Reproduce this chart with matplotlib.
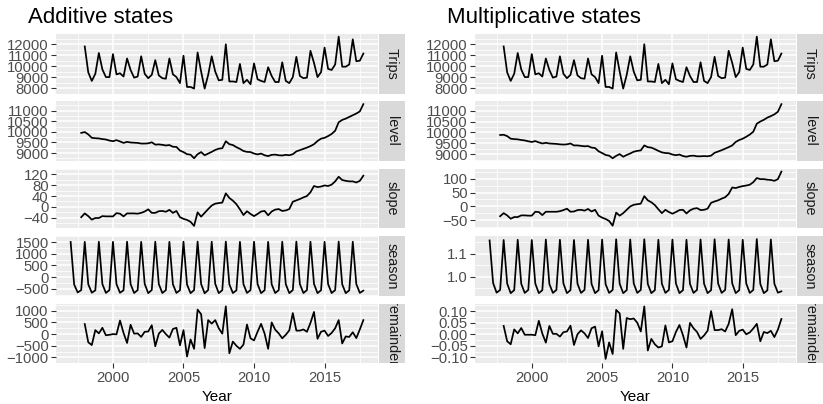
"""ETS state components of Australian holiday trips: additive vs multiplicative."""

import matplotlib
matplotlib.use("Agg")
import matplotlib.pyplot as plt
import numpy as np

plt.rcParams["font.family"] = ["Liberation Sans", "DejaVu Sans"]

# Quarterly time axis, 1997 Q1 .. 2017 Q4 (seasonal states start 4 quarters early,
# level/slope one quarter early, observations at 1998 Q1).
FIRST_YEAR = 1997
N_QUARTERS = 84

TRIPS = [
    11800, 9430, 8650, 9300,
    11200, 9700, 9000, 9000,
    11100, 9250, 9350, 9050,
    10700, 9650, 8950, 9050,
    10900, 9300, 8900, 9200,
    10550, 9150, 8900, 8850,
    10700, 9250, 9000, 8450,
    10950, 8100, 8100, 7950,
    11250, 9500, 7950, 9200,
    10900, 9500, 8700, 8750,
    12000, 8600, 8600, 8550,
    10200, 8450, 8750, 8350,
    10250, 8800, 8650, 8550,
    9900, 9100, 8550, 8550,
    10350, 8650, 8450, 9000,
    10850, 9100, 8900, 8950,
    11400, 10300, 9000, 9450,
    11700, 9750, 9650, 10150,
    12700, 9950, 9950, 10150,
    12450, 10450, 10500, 11150,
]

LEVEL_ADD = [
    9950,
    9990, 9880, 9720, 9700,
    9690, 9660, 9640, 9590,
    9560, 9610, 9550, 9480,
    9530, 9500, 9490, 9480,
    9450, 9450, 9460, 9510,
    9400, 9410, 9390, 9360,
    9380, 9300, 9290, 9120,
    9050, 8950, 8930, 8760,
    8950, 9050, 8900, 8980,
    9060, 9150, 9210, 9230,
    9560, 9420, 9380, 9280,
    9200, 9100, 9060, 9050,
    8980, 8940, 8980, 8900,
    8860, 8920, 8930, 8900,
    8890, 8920, 8900, 8950,
    9080, 9140, 9200, 9260,
    9330, 9420, 9570, 9680,
    9720, 9800, 9900, 10050,
    10450, 10560, 10620, 10700,
    10780, 10860, 10960, 11300,
]

SLOPE_ADD = [
    -38,
    -24, -34, -47, -41,
    -41, -34, -35, -35,
    -35, -23, -25, -35,
    -24, -24, -24, -25,
    -22, -17, -9, -22,
    -22, -16, -15, -18,
    -11, -22, -15, -38,
    -44, -48, -55, -70,
    -20, -36, -22, -8,
    5, 12, 14, 16,
    50, 33, 23, 10,
    -9, -30, -16, -26,
    -34, -26, -17, -15,
    -31, -17, -10, -8,
    -15, -13, -8, 19,
    24, 29, 35, 40,
    54, 77, 73, 75,
    79, 77, 82, 94,
    111, 99, 96, 94,
    94, 90, 96, 115,
]

SEASON_ADD = [
    1510, -320, -660, -560,
    1515, -310, -670, -570,
    1520, -300, -680, -560,
    1515, -305, -675, -565,
    1520, -300, -685, -560,
    1515, -295, -690, -555,
    1520, -300, -685, -560,
    1515, -310, -680, -565,
    1520, -320, -690, -560,
    1525, -300, -695, -555,
    1520, -290, -690, -560,
    1525, -310, -685, -570,
    1515, -305, -680, -560,
    1520, -300, -690, -565,
    1515, -310, -685, -560,
    1520, -305, -690, -555,
    1525, -300, -685, -560,
    1520, -290, -690, -565,
    1515, -300, -685, -560,
    1525, -310, -690, -570,
    1520, -300, -680, -580,
]

REMAINDER_ADD = [
    430, -350, -470, 170,
    30, 270, -50, -30,
    0, -10, 580, 50,
    -380, 400, 20, 30,
    -120, 100, 110, 380,
    -520, 20, 180, 0,
    -150, 220, 270, -480,
    170, -960, -230, -630,
    1050, 850, -600, 600,
    450, 600, 250, 20,
    1190, -820, -320, -500,
    -630, -450, 410, -180,
    -270, 100, 440, 20,
    -630, 500, 190, 30,
    -180, -30, 160, 900,
    150, 150, 200, 100,
    480, 950, -200, 100,
    150, -80, 50, 250,
    600, -400, -100, -120,
    80, -170, 200, 600,
]

LEVEL_MULT = [
    9880,
    9890, 9830, 9710, 9690,
    9680, 9650, 9630, 9590,
    9560, 9600, 9540, 9490,
    9520, 9490, 9480, 9470,
    9450, 9440, 9450, 9490,
    9400, 9400, 9380, 9360,
    9370, 9300, 9280, 9130,
    9050, 8960, 8930, 8810,
    8920, 9000, 8880, 8960,
    9030, 9110, 9150, 9170,
    9400, 9320, 9300, 9230,
    9150, 9080, 9050, 9040,
    8980, 8950, 8980, 8910,
    8880, 8920, 8930, 8900,
    8900, 8910, 8900, 8930,
    9060, 9120, 9180, 9250,
    9320, 9400, 9560, 9650,
    9710, 9800, 9900, 10030,
    10400, 10500, 10580, 10680,
    10750, 10830, 10950, 11300,
]

SLOPE_MULT = [
    -35,
    -24, -32, -44, -38,
    -38, -32, -32, -33,
    -33, -19, -20, -31,
    -19, -19, -19, -19,
    -17, -13, -8, -19,
    -18, -13, -12, -15,
    -9, -18, -12, -33,
    -40, -45, -52, -69,
    -22, -33, -24, -12,
    0, 6, 8, 10,
    37, 22, 15, 5,
    -10, -24, -12, -20,
    -26, -20, -13, -12,
    -25, -14, -8, -6,
    -13, -12, -8, 13,
    18, 22, 28, 33,
    45, 68, 66, 70,
    73, 75, 78, 87,
    102, 98, 98, 96,
    95, 92, 98, 125,
]

SEASON_MULT = [
    1.158, 0.972, 0.930, 0.942,
    1.160, 0.970, 0.928, 0.941,
    1.161, 0.969, 0.929, 0.942,
    1.160, 0.970, 0.928, 0.941,
    1.162, 0.968, 0.929, 0.942,
    1.161, 0.970, 0.928, 0.941,
    1.160, 0.969, 0.929, 0.942,
    1.161, 0.968, 0.928, 0.941,
    1.162, 0.967, 0.929, 0.942,
    1.163, 0.969, 0.928, 0.941,
    1.162, 0.970, 0.929, 0.942,
    1.163, 0.968, 0.928, 0.941,
    1.161, 0.969, 0.929, 0.942,
    1.162, 0.970, 0.928, 0.941,
    1.161, 0.968, 0.929, 0.942,
    1.162, 0.969, 0.928, 0.941,
    1.163, 0.970, 0.929, 0.942,
    1.162, 0.971, 0.928, 0.941,
    1.161, 0.970, 0.929, 0.942,
    1.164, 0.968, 0.928, 0.940,
    1.162, 0.969, 0.930, 0.936,
]

REMAINDER_MULT = [
    0.036, -0.030, -0.043, 0.021,
    0.004, 0.027, -0.002, -0.002,
    -0.002, -0.004, 0.058, 0.003,
    -0.036, 0.036, 0.002, 0.002,
    -0.010, 0.009, 0.012, 0.037,
    -0.046, 0.000, 0.017, 0.004,
    -0.016, 0.026, 0.033, -0.052,
    0.013, -0.106, -0.035, -0.085,
    0.105, 0.090, -0.063, 0.070,
    0.065, 0.068, 0.050, 0.012,
    0.120, -0.070, -0.020, -0.043,
    -0.057, -0.052, 0.038, -0.035,
    -0.030, 0.010, 0.040, -0.004,
    -0.057, 0.049, 0.026, 0.010,
    -0.020, -0.005, 0.015, 0.100,
    0.018, 0.018, 0.022, 0.012,
    0.045, 0.108, -0.004, 0.015,
    0.020, 0.000, 0.008, 0.025,
    0.045, -0.030, 0.010, 0.005,
    0.015, -0.012, 0.020, 0.066,
]

PANEL_NAMES = ["Trips", "level", "slope", "season", "remainder"]

ADD_TICKS = [
    [8000, 9000, 10000, 11000, 12000],
    [9000, 9500, 10000, 10500, 11000],
    [-40, 0, 40, 80, 120],
    [-500, 0, 500, 1000, 1500],
    [-1000, -500, 0, 500, 1000],
]
MULT_TICKS = [
    [8000, 9000, 10000, 11000, 12000],
    [9000, 9500, 10000, 10500, 11000],
    [-50, 0, 50, 100],
    [1.0, 1.1],
    [-0.10, -0.05, 0.0, 0.05, 0.10],
]
MULT_TICK_FMT = ["{:.0f}", "{:.0f}", "{:.0f}", "{:.1f}", "{:.2f}"]

X_TICKS = [2000, 2005, 2010, 2015]

W, H = 823, 404
BG = "#EBEBEB"
STRIP_BG = "#D9D9D9"
TICK_COL = "#4D4D4D"

quarters = FIRST_YEAR + np.arange(N_QUARTERS) / 4


def _fmt(v, fmt):
    return fmt.format(v).replace("-", "\u2212")


def draw_column(fig, x0, x1, title, title_x, series, ticks, fmts):
    """One ggplot-style facet column: five stacked panels with right strips."""
    top, h, gap = 34.0, 59.5, 7.95
    axes = []
    for r, (name, ys) in enumerate(zip(PANEL_NAMES, series)):
        y_top = top + r * (h + gap)
        ax = fig.add_axes([x0 / W, 1 - (y_top + h) / H, (x1 - x0) / W, h / H],
                          sharex=axes[0] if axes else None)
        xs = quarters[len(quarters) - len(ys):]
        ax.plot(xs, ys, color="black", lw=1.25, solid_joinstyle="round")
        ax.set_facecolor(BG)
        for s in ax.spines.values():
            s.set_visible(False)

        maj = ticks[r]
        step = maj[1] - maj[0]
        minor = [maj[0] - step / 2] + [m + step / 2 for m in maj]
        ax.set_yticks(maj)
        ax.set_yticklabels([_fmt(v, fmts[r]) for v in maj])
        ax.set_yticks(minor, minor=True)
        ax.set_xticks(X_TICKS)
        ax.set_xticks([1997.5, 2002.5, 2007.5, 2012.5, 2017.5], minor=True)
        ax.grid(which="major", color="white", lw=1.1)
        ax.grid(which="minor", color="white", lw=0.55)
        ax.set_axisbelow(True)
        ax.tick_params(which="major", length=3.3, width=0.8, color="#333333",
                       labelsize=10.7, labelcolor=TICK_COL, pad=2.0)
        ax.tick_params(which="minor", length=0)
        if r < len(PANEL_NAMES) - 1:
            ax.tick_params(axis="x", labelbottom=False, length=0)
        else:
            ax.set_xticklabels([str(v) for v in X_TICKS])
            ax.tick_params(axis="x", pad=2.5)

        # gray facet strip on the right, text clipped to the strip
        sax = fig.add_axes([(x1 + 1) / W, 1 - (y_top + h) / H, 26 / W, h / H])
        sax.set_facecolor(STRIP_BG)
        sax.set_xticks([])
        sax.set_yticks([])
        for s in sax.spines.values():
            s.set_visible(False)
        sax.text(0.5, 0.5, name, transform=sax.transAxes, rotation=-90,
                 ha="center", va="center", fontsize=10.4, color="#1A1A1A",
                 clip_on=True)
        axes.append(ax)

    fig.text(title_x / W, 1 - 23 / H, title, fontsize=16, va="baseline")
    fig.text((x0 + x1) / 2 / W, 1 - 401 / H, "Year", fontsize=11,
             ha="center", va="baseline")
    return axes


fig = plt.figure(figsize=(W / 100, H / 100), dpi=100)

draw_column(fig, 56, 378, "Additive states", 28,
            [TRIPS, LEVEL_ADD, SLOPE_ADD, SEASON_ADD, REMAINDER_ADD],
            ADD_TICKS, ["{:.0f}"] * 5)
draw_column(fig, 475, 796, "Multiplicative states", 447,
            [TRIPS, LEVEL_MULT, SLOPE_MULT, SEASON_MULT, REMAINDER_MULT],
            MULT_TICKS, MULT_TICK_FMT)

fig.savefig("out.png", dpi=100)
